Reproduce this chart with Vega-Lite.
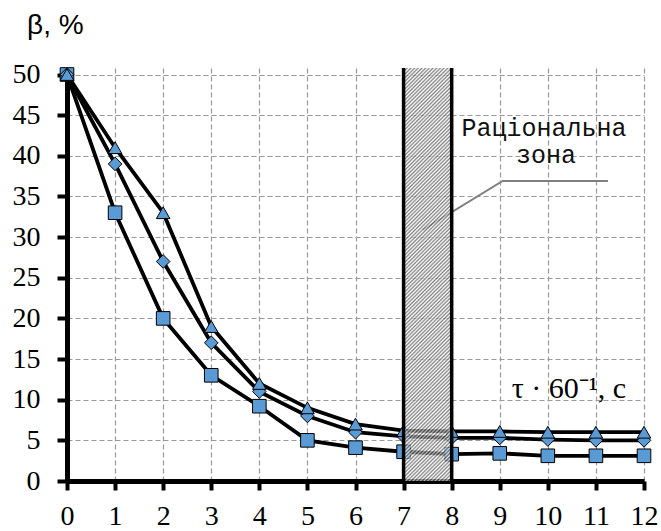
{
  "$schema": "https://vega.github.io/schema/vega-lite/v6.json",
  "width": 577,
  "height": 413,
  "autosize": "none",
  "padding": {"left": 67, "top": 68, "right": 17, "bottom": 50},
  "background": "white",
  "config": {
    "view": {"stroke": null}
  },
  "datasets": {
    "series": [
      {"t": 0, "b": 50, "s": "sq"}, {"t": 1, "b": 33, "s": "sq"}, {"t": 2, "b": 20, "s": "sq"}, {"t": 3, "b": 13, "s": "sq"}, {"t": 4, "b": 9.2, "s": "sq"}, {"t": 5, "b": 5, "s": "sq"}, {"t": 6, "b": 4.1, "s": "sq"}, {"t": 7, "b": 3.6, "s": "sq"}, {"t": 8, "b": 3.3, "s": "sq"}, {"t": 9, "b": 3.4, "s": "sq"}, {"t": 10, "b": 3.1, "s": "sq"}, {"t": 11, "b": 3.1, "s": "sq"}, {"t": 12, "b": 3.1, "s": "sq"},
      {"t": 0, "b": 50, "s": "dia"}, {"t": 1, "b": 39, "s": "dia"}, {"t": 2, "b": 27, "s": "dia"}, {"t": 3, "b": 17, "s": "dia"}, {"t": 4, "b": 11, "s": "dia"}, {"t": 5, "b": 8, "s": "dia"}, {"t": 6, "b": 6, "s": "dia"}, {"t": 7, "b": 5.5, "s": "dia"}, {"t": 8, "b": 5.3, "s": "dia"}, {"t": 9, "b": 5.3, "s": "dia"}, {"t": 10, "b": 5.1, "s": "dia"}, {"t": 11, "b": 5.0, "s": "dia"}, {"t": 12, "b": 5.0, "s": "dia"},
      {"t": 0, "b": 50, "s": "tri"}, {"t": 1, "b": 41, "s": "tri"}, {"t": 2, "b": 33, "s": "tri"}, {"t": 3, "b": 19, "s": "tri"}, {"t": 4, "b": 12, "s": "tri"}, {"t": 5, "b": 9, "s": "tri"}, {"t": 6, "b": 7, "s": "tri"}, {"t": 7, "b": 6.2, "s": "tri"}, {"t": 8, "b": 6.1, "s": "tri"}, {"t": 9, "b": 6.1, "s": "tri"}, {"t": 10, "b": 6.0, "s": "tri"}, {"t": 11, "b": 6.0, "s": "tri"}, {"t": 12, "b": 6.0, "s": "tri"}
    ],
    "zone": [{"t": 7, "t2": 8, "b": 0, "b2": 50.8}],
    "edges": [{"t": 7}, {"t": 8}],
    "leader": [{"t": 7.4, "b": 30.9, "o": 0}, {"t": 9.06, "b": 36.9, "o": 1}, {"t": 11.25, "b": 36.9, "o": 2}],
    "zonelabel": [{"t": 9.92, "b": 42.4, "text": "Раціональна"}, {"t": 9.96, "b": 39.1, "text": "зона"}],
    "xtitle": [{"t": 9.25, "b": 10.2, "text": "τ · 60⁻¹, с"}],
    "ytitle": [{"t": -0.83, "b": 55.0, "text": "β, %"}]
  },
  "layer": [
    {
      "data": {"name": "leader"},
      "mark": {"type": "line", "color": "#808080", "strokeWidth": 2},
      "encoding": {
        "x": {"field": "t", "type": "quantitative", "scale": {"domain": [0, 12], "nice": false, "zero": false}},
        "y": {"field": "b", "type": "quantitative", "scale": {"domain": [0, 50.8], "nice": false, "zero": false}},
        "order": {"field": "o"}
      }
    },
    {
      "data": {"name": "series"},
      "mark": {"type": "line", "color": "black", "strokeWidth": 3.8},
      "encoding": {
        "x": {"field": "t", "type": "quantitative", "scale": {"domain": [0, 12], "nice": false, "zero": false},
          "axis": {"title": null, "values": [0,1,2,3,4,5,6,7,8,9,10,11,12], "tickSize": 9, "labelPadding": 12, "labelFlush": false, "labelOverlap": false,
            "grid": true, "gridDash": [5, 3], "gridColor": "#9a9a9a", "gridWidth": 1.2, "domainColor": "black", "domainWidth": 5, "tickColor": "black", "tickWidth": 4,
            "labelFont": "Liberation Serif", "labelFontSize": 28, "labelColor": "black"}},
        "y": {"field": "b", "type": "quantitative", "scale": {"domain": [0, 50.8], "nice": false, "zero": false},
          "axis": {"title": null, "values": [0,5,10,15,20,25,30,35,40,45,50], "tickSize": 10, "labelPadding": 17, "labelFlush": false, "labelOverlap": false,
            "grid": true, "gridDash": [5, 3], "gridColor": "#9a9a9a", "gridWidth": 1.2, "domainColor": "black", "domainWidth": 5, "tickColor": "black", "tickWidth": 4,
            "labelFont": "Liberation Serif", "labelFontSize": 28, "labelColor": "black"}},
        "detail": {"field": "s"}
      }
    },
    {
      "data": {"name": "series"},
      "mark": {"type": "point", "filled": true, "fill": "#5b9bd5", "stroke": "black", "strokeWidth": 1, "opacity": 1, "size": 185},
      "encoding": {
        "x": {"field": "t", "type": "quantitative", "scale": {"domain": [0, 12], "nice": false, "zero": false}},
        "y": {"field": "b", "type": "quantitative", "scale": {"domain": [0, 50.8], "nice": false, "zero": false}},
        "shape": {"field": "s", "type": "nominal", "scale": {"domain": ["sq", "dia", "tri"], "range": ["square", "diamond", "triangle-up"]}, "legend": null},
        "order": {"field": "t"}
      }
    },
    {
      "data": {"name": "zone"},
      "mark": {"type": "rect", "fillOpacity": 0.72, "fill": {"gradient": "linear", "x1": 0, "y1": 0, "x2": 0.12824, "y2": 1.10149, "stops": [
        {"offset": 0, "color": "#555"}, {"offset": 0.004, "color": "#fff"}, {"offset": 0.008, "color": "#555"}, {"offset": 0.012, "color": "#fff"}, {"offset": 0.016, "color": "#555"}, {"offset": 0.02, "color": "#fff"}, {"offset": 0.024, "color": "#555"}, {"offset": 0.028, "color": "#fff"}, {"offset": 0.032, "color": "#555"}, {"offset": 0.036, "color": "#fff"},
        {"offset": 0.04, "color": "#555"}, {"offset": 0.044, "color": "#fff"}, {"offset": 0.048, "color": "#555"}, {"offset": 0.052, "color": "#fff"}, {"offset": 0.056, "color": "#555"}, {"offset": 0.06, "color": "#fff"}, {"offset": 0.064, "color": "#555"}, {"offset": 0.068, "color": "#fff"}, {"offset": 0.072, "color": "#555"}, {"offset": 0.076, "color": "#fff"},
        {"offset": 0.08, "color": "#555"}, {"offset": 0.084, "color": "#fff"}, {"offset": 0.088, "color": "#555"}, {"offset": 0.092, "color": "#fff"}, {"offset": 0.096, "color": "#555"}, {"offset": 0.1, "color": "#fff"}, {"offset": 0.104, "color": "#555"}, {"offset": 0.108, "color": "#fff"}, {"offset": 0.112, "color": "#555"}, {"offset": 0.116, "color": "#fff"},
        {"offset": 0.12, "color": "#555"}, {"offset": 0.124, "color": "#fff"}, {"offset": 0.128, "color": "#555"}, {"offset": 0.132, "color": "#fff"}, {"offset": 0.136, "color": "#555"}, {"offset": 0.14, "color": "#fff"}, {"offset": 0.144, "color": "#555"}, {"offset": 0.148, "color": "#fff"}, {"offset": 0.152, "color": "#555"}, {"offset": 0.156, "color": "#fff"},
        {"offset": 0.16, "color": "#555"}, {"offset": 0.164, "color": "#fff"}, {"offset": 0.168, "color": "#555"}, {"offset": 0.172, "color": "#fff"}, {"offset": 0.176, "color": "#555"}, {"offset": 0.18, "color": "#fff"}, {"offset": 0.184, "color": "#555"}, {"offset": 0.188, "color": "#fff"}, {"offset": 0.192, "color": "#555"}, {"offset": 0.196, "color": "#fff"},
        {"offset": 0.2, "color": "#555"}, {"offset": 0.204, "color": "#fff"}, {"offset": 0.208, "color": "#555"}, {"offset": 0.212, "color": "#fff"}, {"offset": 0.216, "color": "#555"}, {"offset": 0.22, "color": "#fff"}, {"offset": 0.224, "color": "#555"}, {"offset": 0.228, "color": "#fff"}, {"offset": 0.232, "color": "#555"}, {"offset": 0.236, "color": "#fff"},
        {"offset": 0.24, "color": "#555"}, {"offset": 0.244, "color": "#fff"}, {"offset": 0.248, "color": "#555"}, {"offset": 0.252, "color": "#fff"}, {"offset": 0.256, "color": "#555"}, {"offset": 0.26, "color": "#fff"}, {"offset": 0.264, "color": "#555"}, {"offset": 0.268, "color": "#fff"}, {"offset": 0.272, "color": "#555"}, {"offset": 0.276, "color": "#fff"},
        {"offset": 0.28, "color": "#555"}, {"offset": 0.284, "color": "#fff"}, {"offset": 0.288, "color": "#555"}, {"offset": 0.292, "color": "#fff"}, {"offset": 0.296, "color": "#555"}, {"offset": 0.3, "color": "#fff"}, {"offset": 0.304, "color": "#555"}, {"offset": 0.308, "color": "#fff"}, {"offset": 0.312, "color": "#555"}, {"offset": 0.316, "color": "#fff"},
        {"offset": 0.32, "color": "#555"}, {"offset": 0.324, "color": "#fff"}, {"offset": 0.328, "color": "#555"}, {"offset": 0.332, "color": "#fff"}, {"offset": 0.336, "color": "#555"}, {"offset": 0.34, "color": "#fff"}, {"offset": 0.344, "color": "#555"}, {"offset": 0.348, "color": "#fff"}, {"offset": 0.352, "color": "#555"}, {"offset": 0.356, "color": "#fff"},
        {"offset": 0.36, "color": "#555"}, {"offset": 0.364, "color": "#fff"}, {"offset": 0.368, "color": "#555"}, {"offset": 0.372, "color": "#fff"}, {"offset": 0.376, "color": "#555"}, {"offset": 0.38, "color": "#fff"}, {"offset": 0.384, "color": "#555"}, {"offset": 0.388, "color": "#fff"}, {"offset": 0.392, "color": "#555"}, {"offset": 0.396, "color": "#fff"},
        {"offset": 0.4, "color": "#555"}, {"offset": 0.404, "color": "#fff"}, {"offset": 0.408, "color": "#555"}, {"offset": 0.412, "color": "#fff"}, {"offset": 0.416, "color": "#555"}, {"offset": 0.42, "color": "#fff"}, {"offset": 0.424, "color": "#555"}, {"offset": 0.428, "color": "#fff"}, {"offset": 0.432, "color": "#555"}, {"offset": 0.436, "color": "#fff"},
        {"offset": 0.44, "color": "#555"}, {"offset": 0.444, "color": "#fff"}, {"offset": 0.448, "color": "#555"}, {"offset": 0.452, "color": "#fff"}, {"offset": 0.456, "color": "#555"}, {"offset": 0.46, "color": "#fff"}, {"offset": 0.464, "color": "#555"}, {"offset": 0.468, "color": "#fff"}, {"offset": 0.472, "color": "#555"}, {"offset": 0.476, "color": "#fff"},
        {"offset": 0.48, "color": "#555"}, {"offset": 0.484, "color": "#fff"}, {"offset": 0.488, "color": "#555"}, {"offset": 0.492, "color": "#fff"}, {"offset": 0.496, "color": "#555"}, {"offset": 0.5, "color": "#fff"}, {"offset": 0.504, "color": "#555"}, {"offset": 0.508, "color": "#fff"}, {"offset": 0.512, "color": "#555"}, {"offset": 0.516, "color": "#fff"},
        {"offset": 0.52, "color": "#555"}, {"offset": 0.524, "color": "#fff"}, {"offset": 0.528, "color": "#555"}, {"offset": 0.532, "color": "#fff"}, {"offset": 0.536, "color": "#555"}, {"offset": 0.54, "color": "#fff"}, {"offset": 0.544, "color": "#555"}, {"offset": 0.548, "color": "#fff"}, {"offset": 0.552, "color": "#555"}, {"offset": 0.556, "color": "#fff"},
        {"offset": 0.56, "color": "#555"}, {"offset": 0.564, "color": "#fff"}, {"offset": 0.568, "color": "#555"}, {"offset": 0.572, "color": "#fff"}, {"offset": 0.576, "color": "#555"}, {"offset": 0.58, "color": "#fff"}, {"offset": 0.584, "color": "#555"}, {"offset": 0.588, "color": "#fff"}, {"offset": 0.592, "color": "#555"}, {"offset": 0.596, "color": "#fff"},
        {"offset": 0.6, "color": "#555"}, {"offset": 0.604, "color": "#fff"}, {"offset": 0.608, "color": "#555"}, {"offset": 0.612, "color": "#fff"}, {"offset": 0.616, "color": "#555"}, {"offset": 0.62, "color": "#fff"}, {"offset": 0.624, "color": "#555"}, {"offset": 0.628, "color": "#fff"}, {"offset": 0.632, "color": "#555"}, {"offset": 0.636, "color": "#fff"},
        {"offset": 0.64, "color": "#555"}, {"offset": 0.644, "color": "#fff"}, {"offset": 0.648, "color": "#555"}, {"offset": 0.652, "color": "#fff"}, {"offset": 0.656, "color": "#555"}, {"offset": 0.66, "color": "#fff"}, {"offset": 0.664, "color": "#555"}, {"offset": 0.668, "color": "#fff"}, {"offset": 0.672, "color": "#555"}, {"offset": 0.676, "color": "#fff"},
        {"offset": 0.68, "color": "#555"}, {"offset": 0.684, "color": "#fff"}, {"offset": 0.688, "color": "#555"}, {"offset": 0.692, "color": "#fff"}, {"offset": 0.696, "color": "#555"}, {"offset": 0.7, "color": "#fff"}, {"offset": 0.704, "color": "#555"}, {"offset": 0.708, "color": "#fff"}, {"offset": 0.712, "color": "#555"}, {"offset": 0.716, "color": "#fff"},
        {"offset": 0.72, "color": "#555"}, {"offset": 0.724, "color": "#fff"}, {"offset": 0.728, "color": "#555"}, {"offset": 0.732, "color": "#fff"}, {"offset": 0.736, "color": "#555"}, {"offset": 0.74, "color": "#fff"}, {"offset": 0.744, "color": "#555"}, {"offset": 0.748, "color": "#fff"}, {"offset": 0.752, "color": "#555"}, {"offset": 0.756, "color": "#fff"},
        {"offset": 0.76, "color": "#555"}, {"offset": 0.764, "color": "#fff"}, {"offset": 0.768, "color": "#555"}, {"offset": 0.772, "color": "#fff"}, {"offset": 0.776, "color": "#555"}, {"offset": 0.78, "color": "#fff"}, {"offset": 0.784, "color": "#555"}, {"offset": 0.788, "color": "#fff"}, {"offset": 0.792, "color": "#555"}, {"offset": 0.796, "color": "#fff"},
        {"offset": 0.8, "color": "#555"}, {"offset": 0.804, "color": "#fff"}, {"offset": 0.808, "color": "#555"}, {"offset": 0.812, "color": "#fff"}, {"offset": 0.816, "color": "#555"}, {"offset": 0.82, "color": "#fff"}, {"offset": 0.824, "color": "#555"}, {"offset": 0.828, "color": "#fff"}, {"offset": 0.832, "color": "#555"}, {"offset": 0.836, "color": "#fff"},
        {"offset": 0.84, "color": "#555"}, {"offset": 0.844, "color": "#fff"}, {"offset": 0.848, "color": "#555"}, {"offset": 0.852, "color": "#fff"}, {"offset": 0.856, "color": "#555"}, {"offset": 0.86, "color": "#fff"}, {"offset": 0.864, "color": "#555"}, {"offset": 0.868, "color": "#fff"}, {"offset": 0.872, "color": "#555"}, {"offset": 0.876, "color": "#fff"},
        {"offset": 0.88, "color": "#555"}, {"offset": 0.884, "color": "#fff"}, {"offset": 0.888, "color": "#555"}, {"offset": 0.892, "color": "#fff"}, {"offset": 0.896, "color": "#555"}, {"offset": 0.9, "color": "#fff"}, {"offset": 0.904, "color": "#555"}, {"offset": 0.908, "color": "#fff"}, {"offset": 0.912, "color": "#555"}, {"offset": 0.916, "color": "#fff"},
        {"offset": 0.92, "color": "#555"}, {"offset": 0.924, "color": "#fff"}, {"offset": 0.928, "color": "#555"}, {"offset": 0.932, "color": "#fff"}, {"offset": 0.936, "color": "#555"}, {"offset": 0.94, "color": "#fff"}, {"offset": 0.944, "color": "#555"}, {"offset": 0.948, "color": "#fff"}, {"offset": 0.952, "color": "#555"}, {"offset": 0.956, "color": "#fff"},
        {"offset": 0.96, "color": "#555"}, {"offset": 0.964, "color": "#fff"}, {"offset": 0.968, "color": "#555"}, {"offset": 0.972, "color": "#fff"}, {"offset": 0.976, "color": "#555"}, {"offset": 0.98, "color": "#fff"}, {"offset": 0.984, "color": "#555"}, {"offset": 0.988, "color": "#fff"}, {"offset": 0.992, "color": "#555"}, {"offset": 0.996, "color": "#fff"},
        {"offset": 1, "color": "#555"}
      ]}},
      "encoding": {
        "x": {"field": "t", "type": "quantitative", "scale": {"domain": [0, 12], "nice": false, "zero": false}},
        "x2": {"field": "t2"},
        "y": {"field": "b", "type": "quantitative", "scale": {"domain": [0, 50.8], "nice": false, "zero": false}},
        "y2": {"field": "b2"}
      }
    },
    {
      "data": {"name": "edges"},
      "mark": {"type": "rule", "color": "black", "strokeWidth": 3.5},
      "encoding": {
        "x": {"field": "t", "type": "quantitative", "scale": {"domain": [0, 12], "nice": false, "zero": false}},
        "y": {"datum": 0, "type": "quantitative", "scale": {"domain": [0, 50.8], "nice": false, "zero": false}},
        "y2": {"datum": 50.8}
      }
    },
    {
      "data": {"name": "zonelabel"},
      "mark": {"type": "text", "font": "Liberation Mono", "fontSize": 25, "align": "center", "baseline": "alphabetic", "color": "#111"},
      "encoding": {
        "x": {"field": "t", "type": "quantitative", "scale": {"domain": [0, 12], "nice": false, "zero": false}},
        "y": {"field": "b", "type": "quantitative", "scale": {"domain": [0, 50.8], "nice": false, "zero": false}},
        "text": {"field": "text"}
      }
    },
    {
      "data": {"name": "xtitle"},
      "mark": {"type": "text", "font": "Liberation Serif", "fontSize": 30, "align": "left", "baseline": "alphabetic", "color": "black"},
      "encoding": {
        "x": {"field": "t", "type": "quantitative", "scale": {"domain": [0, 12], "nice": false, "zero": false}},
        "y": {"field": "b", "type": "quantitative", "scale": {"domain": [0, 50.8], "nice": false, "zero": false}},
        "text": {"field": "text"}
      }
    },
    {
      "data": {"name": "ytitle"},
      "mark": {"type": "text", "font": "Liberation Sans", "fontSize": 28, "align": "left", "baseline": "alphabetic", "color": "black"},
      "encoding": {
        "x": {"field": "t", "type": "quantitative", "scale": {"domain": [0, 12], "nice": false, "zero": false}},
        "y": {"field": "b", "type": "quantitative", "scale": {"domain": [0, 50.8], "nice": false, "zero": false}},
        "text": {"field": "text"}
      }
    }
  ]
}
